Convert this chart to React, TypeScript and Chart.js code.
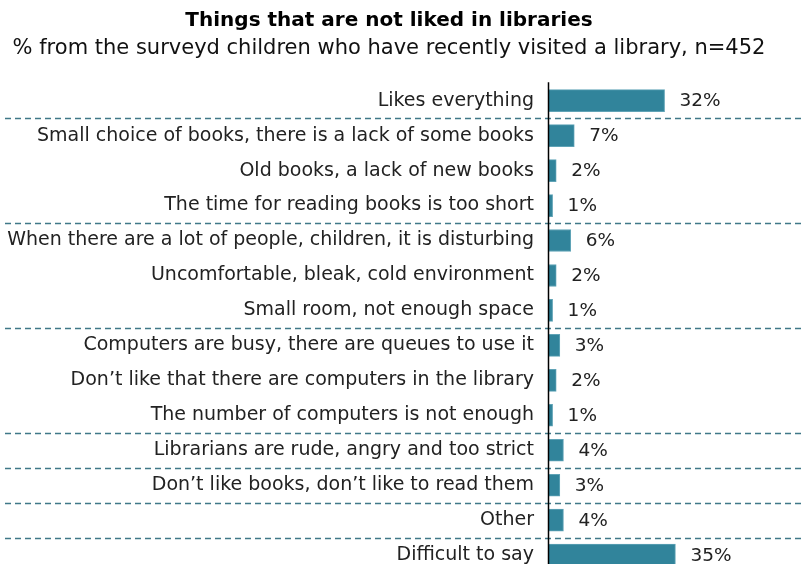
import React, { useEffect, useRef } from "react";
import { Chart, registerables } from "chart.js";

Chart.register(...registerables);

const TITLE = "Things that are not liked in libraries";
const SUBTITLE = "% from the surveyd children who have recently visited a library, n=452";

const categories = [
  "Likes everything",
  "Small choice of books, there is a lack of some books",
  "Old books, a lack of new books",
  "The time for reading books is too short",
  "When there are a lot of people, children, it is disturbing",
  "Uncomfortable, bleak, cold environment",
  "Small room, not enough space",
  "Computers are busy, there are queues to use it",
  "Don\u2019t like that there are computers in the library",
  "The number of computers is not enough",
  "Librarians are rude, angry and too strict",
  "Don\u2019t like books, don\u2019t like to read them",
  "Other",
  "Difficult to say",
];

const values = [32, 7, 2, 1, 6, 2, 1, 3, 2, 1, 4, 3, 4, 35];

// group separators are drawn after these category indices
const separatorsAfter = [0, 3, 6, 9, 10, 11, 12];

const FONT = "'DejaVu Sans', Verdana, sans-serif";

const extrasPlugin = {
  id: "extras",
  afterDatasetsDraw(chart: any) {
    const { ctx, chartArea } = chart;
    const yScale = chart.scales.y;
    const meta = chart.getDatasetMeta(0);
    ctx.save();
    // value labels
    ctx.fillStyle = "#222222";
    ctx.font = `18.5px ${FONT}`;
    ctx.textAlign = "left";
    ctx.textBaseline = "middle";
    meta.data.forEach((bar: any, i: number) => {
      ctx.fillText(values[i] + "%", bar.x + 15, bar.y + 1);
    });
    // dashed separators
    ctx.strokeStyle = "#3f7888";
    ctx.lineWidth = 1.4;
    ctx.setLineDash([6, 4]);
    separatorsAfter.forEach((idx) => {
      const y = Math.round((yScale.getPixelForValue(idx) + yScale.getPixelForValue(idx + 1)) / 2) + 0.5;
      ctx.beginPath();
      ctx.moveTo(5, y);
      ctx.lineTo(chart.width - 5, y);
      ctx.stroke();
    });
    ctx.setLineDash([]);
    // axis line
    ctx.strokeStyle = "#000000";
    ctx.lineWidth = 1.5;
    ctx.beginPath();
    ctx.moveTo(chartArea.left - 0.5, chartArea.top - 1);
    ctx.lineTo(chartArea.left - 0.5, chartArea.bottom);
    ctx.stroke();
    ctx.restore();
  },
};

export default function App() {
  const ref = useRef<HTMLCanvasElement | null>(null);
  useEffect(() => {
    if (!ref.current) return;
    const chart = new Chart(ref.current, {
      type: "bar",
      data: {
        labels: categories,
        datasets: [
          {
            data: values,
            backgroundColor: "#31849b",
            borderColor: "#5fa3b6",
            borderWidth: 1,
            barThickness: 22,
          },
        ],
      },
      options: {
        indexAxis: "y",
        animation: false,
        responsive: false,
        maintainAspectRatio: false,
        layout: { padding: { left: 0, right: 29, top: 0, bottom: 0 } },
        plugins: {
          legend: { display: false },
          tooltip: { enabled: false },
          title: {
            display: true,
            text: TITLE,
            color: "#000000",
            font: { family: FONT, size: 20, weight: "bold" },
            padding: { top: 9, bottom: 1 },
          },
          subtitle: {
            display: true,
            text: SUBTITLE,
            color: "#111111",
            font: { family: FONT, size: 21 },
            padding: { top: 2, bottom: 22 },
          },
        },
        scales: {
          x: {
            display: false,
            min: 0,
            max: 63.4,
          },
          y: {
            grid: { display: false, drawTicks: false },
            border: { display: false },
            ticks: {
              color: "#222222",
              font: { family: FONT, size: 19 },
              padding: 15,
              autoSkip: false,
            },
            afterFit(scale: any) {
              scale.width = 549;
            },
          },
        },
      },
      plugins: [extrasPlugin],
    });
    return () => chart.destroy();
  }, []);
  return (
    <div style={{ position: "fixed", left: 0, top: 0, width: 807, height: 564, overflow: "hidden", background: "#fff" }}>
      <canvas ref={ref} width={807} height={599} style={{ display: "block" }} />
    </div>
  );
}
